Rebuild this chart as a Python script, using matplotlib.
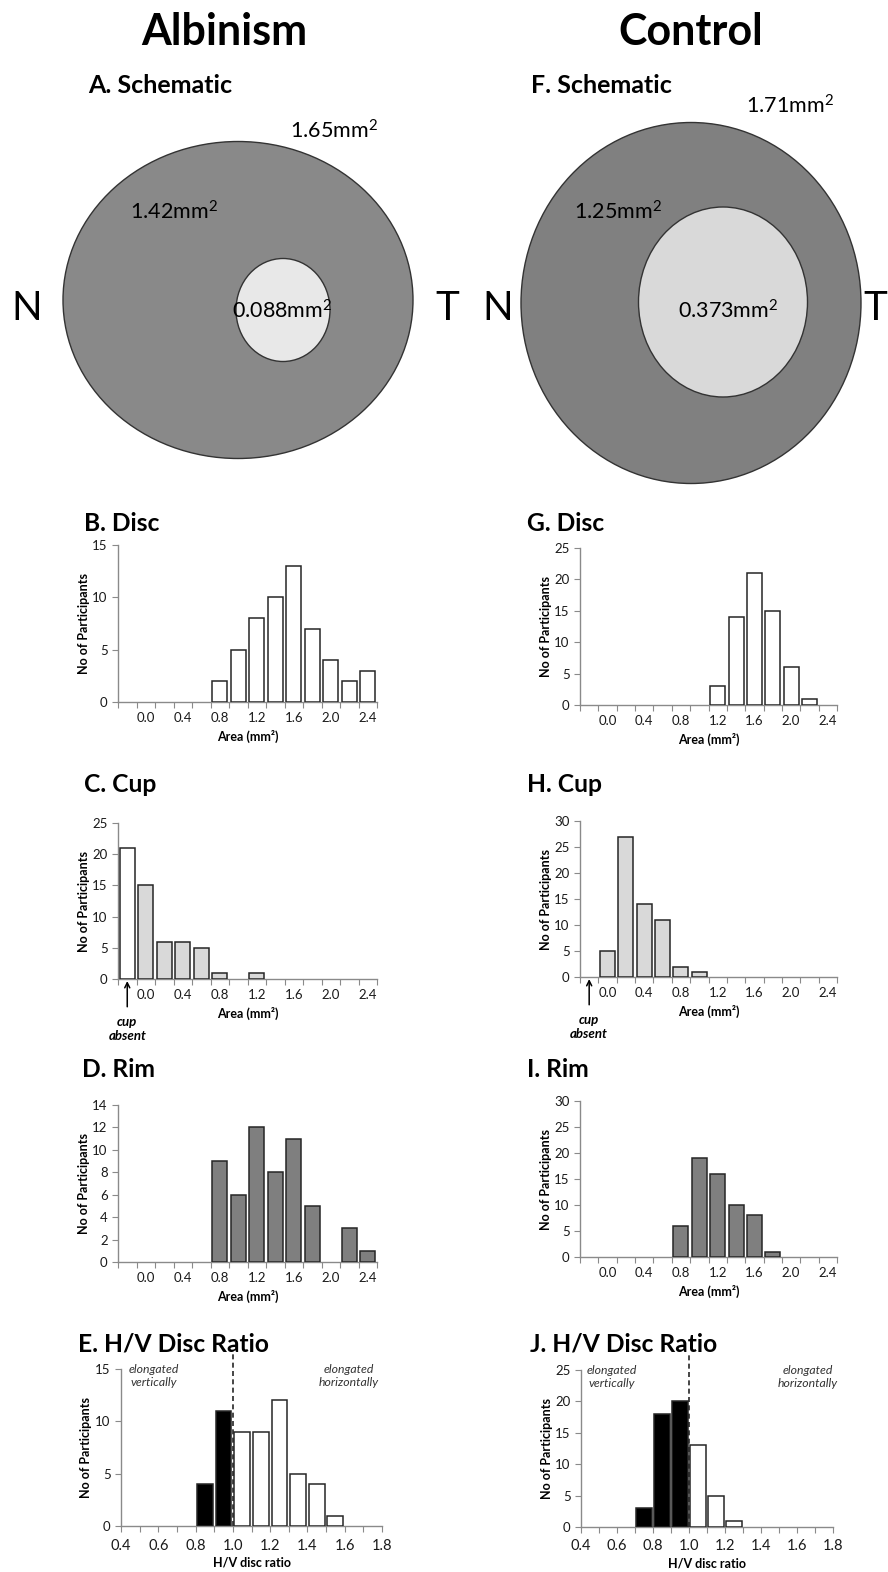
import numpy as np
import matplotlib
matplotlib.use('Agg')
from matplotlib import pyplot as plt
from matplotlib.patches import Ellipse

plt.rcParams['font.family'] = ['Lato', 'DejaVu Sans']
plt.rcParams['mathtext.fontset'] = 'custom'
plt.rcParams['mathtext.rm'] = 'Lato'
plt.rcParams['mathtext.it'] = 'Lato:italic'
plt.rcParams['mathtext.bf'] = 'Lato:bold'

W, H = 888, 1572

# area histograms: 14 category slots, first slot = "cup absent"
area_labels = ['', '0.0', '', '0.4', '', '0.8', '', '1.2', '', '1.6', '', '2.0', '', '2.4']

alb_disc = [0, 0, 0, 0, 0, 2, 5, 8, 10, 13, 7, 4, 2, 3]
alb_cup = [21, 15, 6, 6, 5, 1, 0, 1, 0, 0, 0, 0, 0, 0]
alb_rim = [0, 0, 0, 0, 0, 9, 6, 12, 8, 11, 5, 0, 3, 1]
ctl_disc = [0, 0, 0, 0, 0, 0, 0, 3, 14, 21, 15, 6, 1, 0]
ctl_cup = [0, 5, 27, 14, 11, 2, 1, 0, 0, 0, 0, 0, 0, 0]
ctl_rim = [0, 0, 0, 0, 0, 6, 19, 16, 10, 8, 1, 0, 0, 0]

# H/V ratio histograms (bin start, width 0.1)
ratio_bins = [0.7, 0.8, 0.9, 1.0, 1.1, 1.2, 1.3, 1.4, 1.5]
alb_ratio = [0, 4, 11, 9, 9, 12, 5, 4, 1]
ctl_ratio = [3, 18, 20, 13, 5, 1, 0, 0, 0]

# schematic mean areas: disc, rim, cup
alb_areas = ['1.65mm$^2$', '1.42mm$^2$', '0.088mm$^2$']
ctl_areas = ['1.71mm$^2$', '1.25mm$^2$', '0.373mm$^2$']

EDGE = '#262626'
SPINE = '#8a8a8a'


def px_axes(fig, x0, y0, x1, y1):
    return fig.add_axes([x0 / W, 1 - y1 / H, (x1 - x0) / W, (y1 - y0) / H])


def ftext(fig, x, y, s, **kw):
    return fig.text(x / W, 1 - y / H, s, **kw)


def style_axes(ax):
    for s in ['top', 'right']:
        ax.spines[s].set_visible(False)
    for s in ['left', 'bottom']:
        ax.spines[s].set_color(SPINE)
        ax.spines[s].set_linewidth(1.0)
    ax.tick_params(which='both', direction='out', color=SPINE, labelsize=9.5,
                   labelcolor='#1a1a1a')
    ax.tick_params(which='major', length=4)
    ax.set_ylabel('No of Participants', fontsize=9, fontweight='bold')
    ax.yaxis.set_label_coords(-0.11, 0.5)


def area_hist(ax, counts, color, ymax, ystep, first_color=None, absent=False):
    x = np.arange(len(counts))
    counts = np.array(counts)
    colors = np.array([color] * len(counts), dtype=object)
    if first_color is not None:
        colors[0] = first_color
    keep = counts > 0
    ax.bar(x[keep], counts[keep], width=0.82, color=list(colors[keep]),
           edgecolor=EDGE, linewidth=1.1, zorder=3)
    ax.set_xlim(-0.5, len(counts) - 0.5)
    ax.set_ylim(0, ymax)
    ax.set_yticks(np.arange(0, ymax + 0.1, ystep))
    ax.set_xticks(np.arange(-0.5, len(counts)))
    ax.set_xticklabels([])
    ax.set_xticks(x, minor=True)
    ax.set_xticklabels(area_labels, minor=True)
    style_axes(ax)
    ax.tick_params(axis='x', which='minor', length=0, pad=7.5)
    ax.set_xlabel('Area (mm²)', fontsize=9, fontweight='bold', labelpad=4)
    if absent:
        ax.annotate('', xy=(0, 0), xycoords='data', xytext=(0, -20),
                    textcoords='offset points', annotation_clip=False,
                    arrowprops=dict(arrowstyle='->', color='black', lw=1.1,
                                    shrinkA=0, shrinkB=1.5, mutation_scale=9))
        ax.annotate('cup\nabsent', xy=(0, 0), xycoords='data', xytext=(0, -26.5),
                    textcoords='offset points', ha='center', va='top',
                    fontsize=9.5, fontstyle='italic', fontweight='bold',
                    linespacing=1.2, annotation_clip=False)


def ratio_hist(ax, counts, ymax, ystep, tv, th):
    b = np.array(ratio_bins)
    counts = np.array(counts)
    keep = counts > 0
    colors = ['black' if v < 0.999 else 'white' for v in b[keep]]
    ax.bar(b[keep] + 0.05, counts[keep], width=0.085, color=colors,
           edgecolor=EDGE, linewidth=1.1, zorder=3)
    ax.set_xlim(0.4, 1.8)
    ax.set_ylim(0, ymax)
    ax.set_yticks(np.arange(0, ymax + 0.1, ystep))
    ticks = np.round(np.arange(0.4, 1.801, 0.1), 1)
    ax.set_xticks(ticks)
    ax.set_xticklabels(['%.1f' % t if i % 2 == 0 else '' for i, t in enumerate(ticks)])
    style_axes(ax)
    ax.tick_params(axis='x', pad=5, labelsize=10.5)
    ax.set_xlabel('H/V disc ratio', fontsize=9, fontweight='bold', labelpad=3)
    ax.axvline(1.0, ymin=0, ymax=1.11, color=EDGE, ls=(0, (3, 2)), lw=1.2,
               clip_on=False, zorder=4)
    ax.text(tv, 0.955, 'elongated\nvertically', transform=ax.transAxes,
            ha='center', va='center', fontsize=8.8, fontstyle='italic',
            color='#333333', linespacing=1.15)
    ax.text(th, 0.955, 'elongated\nhorizontally', transform=ax.transAxes,
            ha='center', va='center', fontsize=8.8, fontstyle='italic',
            color='#333333', linespacing=1.15)


fig = plt.figure(figsize=(W / 100, H / 100), dpi=100)

# schematic overlay in pixel coordinates
sk = fig.add_axes([0, 0, 1, 1], zorder=0)
sk.set_xlim(0, W)
sk.set_ylim(H, 0)
sk.axis('off')

sk.add_patch(Ellipse((238, 300), 350, 317, facecolor='#898989', edgecolor='#333333', lw=1))
sk.add_patch(Ellipse((283, 310), 94, 103, facecolor='#e8e8e8', edgecolor='#333333', lw=1))
sk.add_patch(Ellipse((691, 303), 340, 361, facecolor='#808080', edgecolor='#333333', lw=1))
sk.add_patch(Ellipse((723, 302), 169, 190, facecolor='#d9d9d9', edgecolor='#333333', lw=1))

fs_area = 15.5
sk.text(334, 131, alb_areas[0], ha='center', va='center', fontsize=fs_area)
sk.text(174, 212, alb_areas[1], ha='center', va='center', fontsize=fs_area)
sk.text(282, 311, alb_areas[2], ha='center', va='center', fontsize=fs_area)
sk.text(790, 106, ctl_areas[0], ha='center', va='center', fontsize=fs_area)
sk.text(618, 212, ctl_areas[1], ha='center', va='center', fontsize=fs_area)
sk.text(728, 311, ctl_areas[2], ha='center', va='center', fontsize=fs_area)
for xx, s, ha in [(27, 'N', 'center'), (447, 'T', 'center'), (498, 'N', 'center'), (887, 'T', 'right')]:
    sk.text(xx, 308, s, ha=ha, va='center', fontsize=29)

# headings
ftext(fig, 224, 45, 'Albinism', ha='center', va='baseline', fontsize=31, fontweight='bold')
ftext(fig, 691, 45, 'Control', ha='center', va='baseline', fontsize=31, fontweight='bold')
for x, y, s in [(88, 93, 'A. Schematic'), (531, 93, 'F. Schematic'),
                (84, 531, 'B. Disc'), (527, 531, 'G. Disc'),
                (84, 792, 'C. Cup'), (527, 792, 'H. Cup'),
                (82, 1077, 'D. Rim'), (527, 1077, 'I. Rim'),
                (78, 1352, 'E. H/V Disc Ratio'), (530, 1352, 'J. H/V Disc Ratio')]:
    fs = 18 if 'Schematic' in s else 17.7
    ftext(fig, x, y, s, ha='left', va='baseline', fontsize=fs, fontweight='bold')

ax = px_axes(fig, 118, 545, 377, 702)
area_hist(ax, alb_disc, 'white', 15, 5)
ax = px_axes(fig, 580, 548, 837, 705)
area_hist(ax, ctl_disc, 'white', 25, 5)
ax = px_axes(fig, 118, 823, 377, 979)
area_hist(ax, alb_cup, '#d9d9d9', 25, 5, first_color='white', absent=True)
ax = px_axes(fig, 580, 821, 837, 977)
area_hist(ax, ctl_cup, '#d9d9d9', 30, 5, absent=True)
ax = px_axes(fig, 118, 1105, 377, 1262)
area_hist(ax, alb_rim, '#7f7f7f', 14, 2)
ax = px_axes(fig, 580, 1101, 837, 1257)
area_hist(ax, ctl_rim, '#7f7f7f', 30, 5)
ax = px_axes(fig, 121, 1369, 382, 1526)
ratio_hist(ax, alb_ratio, 15, 5, 0.126, 0.874)
ax = px_axes(fig, 581, 1370, 833, 1527)
ratio_hist(ax, ctl_ratio, 25, 5, 0.123, 0.90)

plt.savefig('out.png', dpi=100)
